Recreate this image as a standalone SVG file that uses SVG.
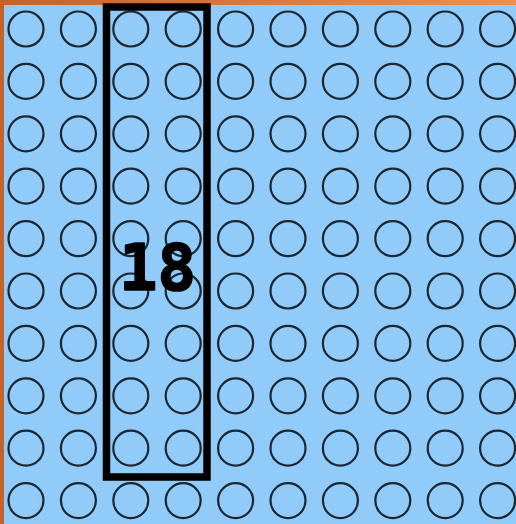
<svg xmlns="http://www.w3.org/2000/svg" width="516" height="524" viewBox="0 0 516 524">
<defs>
<linearGradient id="top" x1="0" y1="0" x2="1" y2="0">
<stop offset="0" stop-color="#c5622a"/>
<stop offset="1" stop-color="#f28e4a"/>
</linearGradient>
<style>
.c{fill:none;stroke:#1b2631;stroke-width:2.2}
.box{fill:none;stroke:#000;stroke-width:7.5}
.lbl{font-family:"DejaVu Sans Mono","Liberation Mono",monospace;font-weight:bold;font-size:64px;fill:#000;stroke:#000;stroke-width:1.6;stroke-linejoin:round;text-anchor:middle}
</style>
<g id="circ"><circle class="c" cx="0" cy="0" r="17.5"/></g>
<g id="row">
<use href="#circ" x="26"/><use href="#circ" x="78.4"/><use href="#circ" x="130.8"/><use href="#circ" x="183.2"/><use href="#circ" x="235.6"/>
<use href="#circ" x="288"/><use href="#circ" x="340.4"/><use href="#circ" x="392.8"/><use href="#circ" x="445.2"/><use href="#circ" x="497.6"/>
</g>
</defs>
<rect width="516" height="524" fill="#91cbf9"/>
<rect width="516" height="5" fill="url(#top)"/>
<rect width="4" height="524" fill="#c5622a"/>
<g id="grid">
<use href="#row" y="29"/><use href="#row" y="81.4"/><use href="#row" y="133.8"/><use href="#row" y="186.2"/><use href="#row" y="238.6"/>
<use href="#row" y="291"/><use href="#row" y="343.4"/><use href="#row" y="395.8"/><use href="#row" y="448.2"/><use href="#row" y="500.6"/>
</g>
<g id="highlight">
<rect class="box" x="106.5" y="7" width="100.5" height="470"/>
<text class="lbl" x="157.5" y="289.5">18</text>
</g>
</svg>
